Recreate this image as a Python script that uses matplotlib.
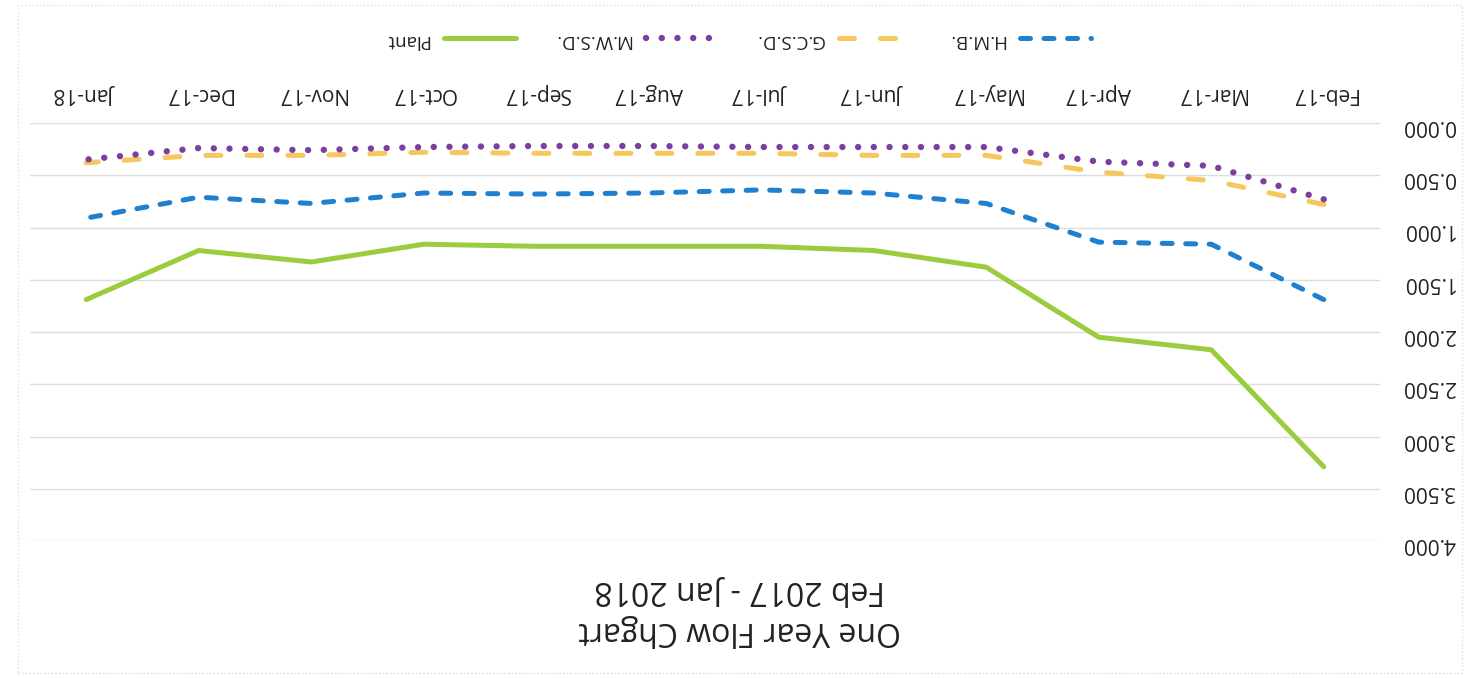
import matplotlib
matplotlib.use("Agg")
import matplotlib.pyplot as plt
from matplotlib.patches import Rectangle

months = ["Feb-17", "Mar-17", "Apr-17", "May-17", "Jun-17", "Jul-17",
          "Aug-17", "Sep-17", "Oct-17", "Nov-17", "Dec-17", "Jan-18"]
hmb = [1.69, 1.16, 1.14, 0.77, 0.67, 0.64, 0.67, 0.68, 0.67, 0.77, 0.71, 0.91]
gcsd = [0.78, 0.55, 0.47, 0.31, 0.31, 0.29, 0.29, 0.29, 0.28, 0.31, 0.31, 0.38]
mwsd = [0.73, 0.41, 0.37, 0.23, 0.23, 0.23, 0.22, 0.22, 0.23, 0.26, 0.24, 0.35]
plant = [3.29, 2.17, 2.05, 1.38, 1.22, 1.18, 1.18, 1.18, 1.16, 1.33, 1.22, 1.69]
yticks = [0.0, 0.5, 1.0, 1.5, 2.0, 2.5, 3.0, 3.5, 4.0]
title = "One Year Flow Chgart\nFeb 2017 - Jan 2018"

plt.rcParams['font.family'] = ['Open Sans', 'DejaVu Sans']

fig = plt.figure(figsize=(14.66, 6.78), dpi=100)
ax = fig.add_axes([30/1466, 1-541/678, 1350/1466, (541-123)/678])

x = list(range(len(months)))
ax.plot(x, hmb, color='#1F80D0', lw=3.6, linestyle=(0, (2.0, 2.7)),
        dash_capstyle='round', label='H.M.B.')
ax.plot(x, gcsd, color='#F6C75C', lw=3.6, linestyle=(0, (3.0, 5.2)),
        dash_capstyle='round', label='G.C.S.D.')
ax.plot(x, mwsd, color='#7A3FA0', lw=4.6, linestyle=(0, (0.01, 2.45)),
        dash_capstyle='round', label='M.W.S.D.')
ax.plot(x, plant, color='#9CCB3E', lw=3.6, solid_capstyle='round', label='Plant')

# chart is shown rotated by 180 degrees
ax.set_xlim(len(months) - 0.5, -0.5)
ax.set_ylim(4.0, 0.0)
ax.set_yticks(yticks)
ax.set_yticklabels([f"{v:.3f}" for v in yticks], rotation=180, fontsize=15, color='#222222')
ax.set_xticks(x)
ax.set_xticklabels(months, rotation=180, fontsize=15, color='#222222')
ax.xaxis.tick_top()
ax.yaxis.tick_right()
ax.tick_params(axis='both', length=0)
ax.tick_params(axis='x', pad=14)
ax.tick_params(axis='y', pad=16)
ax.grid(axis='y', color='#DDDDDD', lw=1)
for s in ax.spines.values():
    s.set_visible(False)

handles, labels = ax.get_legend_handles_labels()
leg = fig.legend(handles[::-1], labels[::-1], loc='center',
                 bbox_to_anchor=(738/1466, 1-40/678), ncol=4, frameon=False,
                 fontsize=13.5, markerfirst=False, handlelength=3.8,
                 columnspacing=2.0, handletextpad=0.8)
for t in leg.get_texts():
    t.set_rotation(180)
    t.set_color('#222222')

fig.text(740/1466, 1-610/678, title, rotation=180, ha='center', va='center',
         multialignment='center', fontsize=23, color='#222222', linespacing=1.3)

fig.patches.append(Rectangle((0.012, 0.008), 0.985, 0.985, transform=fig.transFigure,
                             fill=False, edgecolor='#DDDDDD', lw=1, linestyle=':'))

fig.savefig("out.png", dpi=100)
